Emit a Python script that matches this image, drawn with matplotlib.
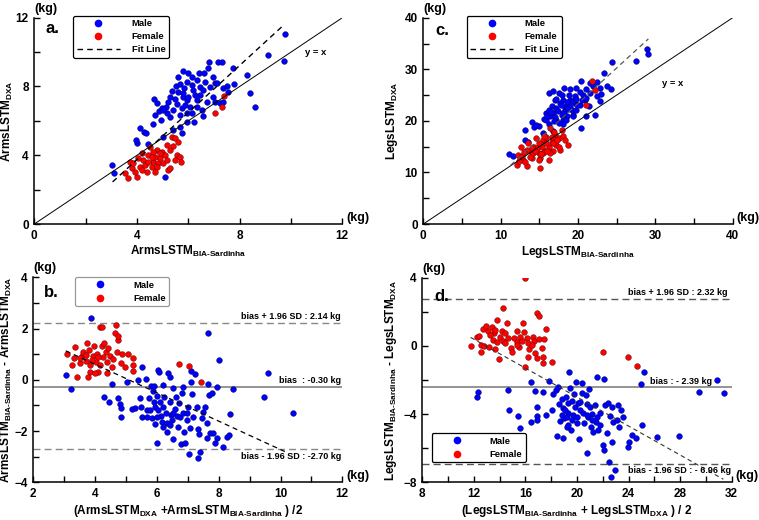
import matplotlib
matplotlib.use('Agg')
import matplotlib.pyplot as plt
from matplotlib.ticker import MultipleLocator, NullFormatter
from matplotlib.lines import Line2D

plt.rcParams['font.family'] = ['Liberation Sans', 'DejaVu Sans']
plt.rcParams['font.weight'] = 'bold'
plt.rcParams['mathtext.fontset'] = 'custom'
plt.rcParams['mathtext.rm'] = 'Liberation Sans:bold'
plt.rcParams['mathtext.it'] = 'Liberation Sans:bold'
plt.rcParams['mathtext.bf'] = 'Liberation Sans:bold'
plt.rcParams['mathtext.default'] = 'rm'

# ---------------- Panel a: Arms (BIA vs DXA) ----------------
arms_male_bia = [3.03,3.12,3.99,3.95,4.12,4.27,4.34,4.43,4.68,4.62,
                 4.71,4.87,4.95,5.00,5.08,4.97,5.12,5.27,5.35,5.52,
                 5.60,5.78,6.00,5.68,5.83,5.78,5.55,5.74,5.94,5.68,
                 5.42,5.29,5.16,5.68,5.74,5.42,6.13,6.19,6.32,6.45,
                 6.32,6.43,6.61,6.78,6.82,6.97,7.17,7.30,7.73,6.65,
                 6.84,7.04,6.52,6.56,6.23,5.94,6.71,6.97,7.10,7.34,
                 7.49,7.56,7.79,7.04,7.23,8.30,8.40,8.60,9.12,9.73,
                 9.78,7.34,5.94,6.06,6.13,6.32,6.45,5.87,5.48,5.22,
                 5.03,4.77,6.00,5.81,5.61,6.26,6.58,6.13,5.94]
arms_male_dxa = [3.43,2.97,4.69,4.88,5.58,5.37,5.27,4.65,7.27,5.79,
                 6.34,6.57,6.05,5.08,2.71,6.72,6.82,7.36,7.73,8.02,
                 8.53,8.90,8.80,8.14,7.89,7.40,7.00,6.72,6.43,6.34,
                 6.63,6.24,6.43,5.66,5.27,5.46,8.08,7.79,7.21,7.98,
                 8.37,8.80,8.80,9.05,9.44,8.57,9.44,9.44,9.05,8.28,
                 7.95,8.18,6.63,6.28,5.95,5.95,7.11,7.40,8.18,7.89,
                 8.02,7.69,8.12,7.11,7.05,8.66,7.64,6.78,9.83,9.46,
                 11.07,7.11,7.21,6.82,6.43,6.82,7.50,6.91,7.29,7.11,
                 6.63,7.02,7.40,7.60,7.69,7.50,7.79,8.57,8.28]
arms_female_bia = [3.66,3.53,3.73,3.79,3.99,3.92,4.12,4.25,4.38,4.44,
                   4.57,4.64,4.70,4.77,4.83,4.90,4.96,5.03,5.09,5.16,
                   5.22,5.29,5.35,5.48,5.42,5.55,5.61,5.48,5.68,5.71,
                   5.29,4.51,4.64,4.18,4.05,3.86,4.31,4.44,4.77,4.90,
                   4.57,4.18,4.70,5.16,7.04,7.30,7.39]
arms_female_dxa = [2.65,2.95,3.59,3.24,2.75,3.04,3.33,3.72,3.04,4.01,
                   3.33,3.62,3.91,4.30,3.53,3.82,4.20,3.53,4.01,4.59,
                   3.14,4.30,5.08,4.98,4.53,4.01,4.79,3.72,3.91,3.59,
                   3.24,4.50,4.20,4.11,3.82,3.53,3.43,3.62,3.33,4.11,
                   3.91,3.14,3.04,3.72,6.43,6.78,7.44]
fit_a_x = [3.05, 9.70]
fit_a_y = [2.45, 11.55]

# ---------------- Panel c: Legs (BIA vs DXA) ----------------
legs_male_bia = [11.1,11.6,13.1,13.2,14.1,14.3,14.9,15.6,15.9,16.2,
                 16.6,16.8,17.2,16.2,16.8,17.5,18.2,19.0,19.7,20.4,
                 21.6,22.5,22.8,23.4,23.7,24.3,24.4,27.5,28.9,29.1,
                 20.4,21.1,22.2,22.8,20.3,19.2,18.6,18.0,18.1,18.8,
                 19.6,20.7,21.1,21.6,22.0,19.8,19.0,17.7,17.0,16.4,
                 17.2,18.3,19.6,20.9,15.9,15.5,16.8,18.0,19.4,18.5,17.9,
                 16.0,16.5,17.0,17.4,17.8,18.2,18.6,19.0,19.4,19.8,
                 20.2,16.3,16.9,17.5,18.1,18.7,19.3,19.9,20.5,21.0,
                 17.2,17.9,18.4,21.4,22.4,23.0,14.6,13.6]
legs_male_dxa = [13.5,13.1,18.3,16.3,19.7,18.9,19.0,20.3,21.5,22.2,
                 22.9,21.5,22.5,25.5,25.7,25.4,26.4,26.2,26.4,27.8,
                 27.3,27.5,26.4,29.2,26.7,26.1,31.4,31.7,34.0,32.9,
                 18.7,21.0,21.1,23.8,23.1,22.2,20.9,20.2,24.1,25.1,
                 24.8,25.1,26.1,25.4,26.7,22.2,24.1,23.5,24.1,20.9,
                 20.2,22.5,23.5,24.1,20.2,17.6,18.0,19.3,21.2,22.9,21.2,
                 21.0,21.8,20.8,22.0,23.0,21.8,23.6,22.8,23.9,24.2,
                 25.6,19.4,20.0,19.6,21.5,22.3,21.0,23.0,24.0,24.5,
                 24.3,25.0,20.2,22.9,24.9,25.3,19.2,15.9]
legs_female_bia = [12.1,12.3,12.6,12.9,13.4,13.6,13.8,14.0,14.3,14.6,
                   14.9,15.1,15.3,15.5,15.7,15.9,16.2,16.4,15.0,16.6,
                   16.8,17.0,17.2,17.5,17.7,17.9,18.1,18.3,18.7,15.1,
                   16.2,14.2,13.4,12.7,14.7,15.5,21.1,21.8,22.2,14.0,
                   15.9,16.8,17.5,16.4,
                   13.0,13.8,14.5,15.2,16.0,16.6,17.3,12.4,13.2,14.9,15.6,16.9]
legs_female_dxa = [11.5,13.4,15.0,12.4,11.3,15.7,14.1,12.8,15.0,16.7,
                   13.8,12.8,15.0,16.3,14.1,16.9,15.0,18.6,12.5,16.0,
                   14.1,17.3,15.4,16.7,14.4,18.3,17.0,16.3,15.3,10.8,
                   12.4,13.8,14.4,13.1,14.7,13.8,23.0,27.8,25.9,14.7,
                   15.7,15.7,15.0,13.8,
                   13.9,12.9,14.1,13.5,14.2,16.8,16.2,12.2,12.0,15.8,17.1,17.9]
fit_c_x = [11.3, 29.1]
fit_c_y = [11.4, 35.9]

# ---------------- Panel b: Arms Bland-Altman ----------------
arms_ba_male_mean = [3.05,3.22,3.87,5.51,4.54,5.02,5.38,5.64,4.30,4.46,
                     4.75,4.80,4.83,4.84,5.20,5.29,5.45,5.48,5.51,5.69,
                     5.74,5.80,5.86,5.90,5.94,5.94,5.99,6.01,6.05,6.08,
                     6.10,6.13,6.19,6.21,6.24,6.28,6.32,6.37,6.42,6.42,
                     6.46,6.48,6.51,6.53,6.59,6.62,6.66,6.69,6.72,6.77,
                     6.80,6.83,6.85,6.89,6.91,6.96,7.02,7.05,7.07,7.09,
                     7.10,7.12,7.16,7.23,7.29,7.32,7.34,7.37,7.39,7.45,
                     7.50,7.57,7.61,7.63,7.66,7.66,7.69,7.72,7.77,7.83,
                     7.88,7.93,7.95,8.01,8.13,8.26,8.34,8.36,8.47,9.48,
                     9.58,10.41,
                     5.67,5.83,5.99,6.15,6.32,6.21,6.42,6.53,6.74,6.96,5.78,6.05,5.89]
arms_ba_male_diff = [0.19,-0.37,2.40,0.49,-0.16,-0.10,-0.01,0.03,-0.66,-0.85,
                     -0.72,-0.95,-1.11,-1.44,-1.15,-1.11,-0.72,-1.05,-1.46,-1.18,
                     -0.72,-0.24,-0.42,-0.24,-1.05,-1.73,-2.45,-0.63,0.38,0.29,
                     -0.85,-1.41,-1.05,-0.20,-0.66,-1.28,-2.02,0.28,0.12,-0.85,
                     -1.37,-1.57,-0.33,-2.32,-1.15,-0.66,-1.41,-1.83,-0.92,-2.50,
                     -0.53,-1.30,-0.29,-2.02,-2.45,-1.57,-1.05,-2.89,-1.89,-0.07,
                     0.36,-0.55,-1.46,0.23,-1.05,-1.93,-3.06,-2.11,-2.80,-1.50,
                     -1.24,-1.05,-1.67,-2.28,1.82,-0.16,-0.59,-2.09,-0.50,-2.09,
                     -2.48,-0.29,-2.28,0.78,-2.64,-2.22,-2.15,-1.34,-0.37,-0.69,
                     0.28,-1.31,
                     -1.44,-1.50,-1.44,-1.63,-1.70,-1.83,-1.76,-1.31,-1.44,-1.31,-1.18,-1.18,-0.85]
arms_ba_female_mean = [3.10,3.24,3.35,3.32,3.51,3.56,3.62,3.70,3.75,3.80,
                       3.83,3.85,3.92,3.97,4.03,4.05,4.10,4.16,4.21,4.21,
                       4.27,4.29,4.35,4.37,4.43,4.48,4.54,4.59,4.64,4.67,
                       4.70,4.73,4.75,4.83,4.86,4.97,5.07,5.24,5.24,5.24,
                       3.40,3.78,3.99,4.37,3.51,3.89,4.16,4.10,3.72,
                       6.71,7.05,7.43]
arms_ba_female_diff = [1.00,0.58,1.27,0.84,0.64,0.93,1.10,0.73,1.45,1.16,
                       0.58,0.32,0.93,1.30,0.71,1.01,0.32,2.08,2.08,1.30,
                       0.88,1.45,1.10,0.71,1.23,0.93,0.51,0.80,1.82,2.14,
                       1.10,1.56,1.71,0.67,1.01,0.51,1.01,0.87,0.58,0.36,
                       0.12,0.12,0.25,0.25,0.84,0.77,0.58,0.90,0.97,
                       0.62,0.54,-0.07]
fit_b_x = [3.05, 10.14]
fit_b_y = [1.13, -2.80]
arms_bias_lines = [2.20, -0.27, -2.71]
arms_bias_labels = ["bias + 1.96 SD : 2.14 kg", "bias  : -0.30 kg", "bias - 1.96 SD : -2.70 kg"]

# ---------------- Panel d: Legs Bland-Altman ----------------
legs_ba_male_mean = [12.29,12.27,14.62,14.75,15.40,15.58,16.40,16.40,16.77,16.87,
                     16.92,16.90,17.34,17.57,17.85,18.03,18.16,18.37,18.47,18.55,
                     18.60,18.68,18.81,18.89,18.94,19.02,19.15,19.20,19.28,19.33,
                     19.41,19.46,19.51,19.59,19.66,19.77,19.84,19.89,19.97,20.05,
                     20.13,20.23,20.36,20.41,20.49,20.56,20.67,20.75,20.80,20.88,
                     20.96,21.01,21.09,21.19,21.27,21.40,21.48,21.58,21.65,21.78,
                     21.99,22.07,22.12,22.17,22.30,22.43,22.51,22.56,22.61,22.69,
                     22.74,22.82,22.95,23.13,23.21,23.29,23.39,23.54,23.98,24.06,
                     24.29,24.58,24.94,25.02,25.20,26.23,27.89,29.49,30.89,31.40,
                     19.20,19.59,19.97,20.23,18.81,19.07,19.33,20.75,21.14,21.53,21.78]
legs_ba_male_diff = [-2.68,-3.02,-2.59,-3.76,-4.09,-4.79,-2.10,-4.44,-2.66,-4.09,
                     -3.56,-4.35,-2.68,-4.05,-2.08,-3.76,-2.82,-2.59,-5.28,-2.43,
                     -3.43,-4.38,-3.14,-5.41,-3.66,-4.24,-2.98,-4.74,-3.37,-3.91,
                     -1.51,-2.49,-4.93,-3.21,-4.05,-2.82,-3.60,-2.14,-4.55,-3.33,
                     -5.48,-3.76,-2.78,-2.20,-3.91,-4.55,-2.88,-3.41,-6.26,-4.15,
                     -2.55,-3.56,-4.74,-3.99,-5.03,-3.47,-4.44,-1.84,-4.93,-4.64,
                     -5.81,-1.96,-6.10,-3.47,-5.13,-3.37,-6.79,-4.11,-7.67,-5.62,
                     -3.56,-4.44,-7.28,-4.34,-3.47,-4.74,-3.76,-4.15,-5.91,-5.62,
                     -5.22,-5.41,-2.24,-4.64,-1.55,-5.32,-5.28,-2.68,-2.00,-2.74,
                     -4.15,-4.35,-4.15,-3.27,-4.05,-3.76,-4.64,-4.05,-4.34,-4.15,-3.91]
legs_ba_female_mean = [11.75,12.22,12.40,12.55,12.55,12.68,12.81,12.94,13.12,13.20,
                       13.38,13.51,13.59,13.64,13.77,13.82,13.92,14.03,14.15,14.23,
                       14.28,14.41,14.54,14.67,14.85,14.98,15.14,15.32,15.37,15.53,
                       15.58,15.71,15.84,15.89,15.97,15.99,16.09,16.17,16.22,16.30,
                       16.61,16.69,16.77,16.87,16.92,17.03,17.08,17.26,17.34,17.39,
                       17.44,17.59,18.03,22.04,23.98,24.68,13.25,13.64,14.41,15.32,16.48]
legs_ba_female_diff = [-0.03,0.50,0.58,-0.34,0.05,0.97,0.01,1.17,0.87,-0.05,
                       1.09,0.35,0.74,-0.16,0.21,1.52,-0.75,0.54,0.89,0.31,
                       2.24,0.74,1.36,0.44,-0.10,-0.34,0.44,0.89,0.25,-0.08,
                       0.50,0.31,1.32,0.83,3.96,-1.26,0.44,-0.67,0.15,-0.20,
                       0.50,0.31,-0.44,-0.73,1.95,1.77,0.38,-0.14,-0.63,-0.98,
                       0.38,0.97,-0.92,-0.36,-0.67,-1.16,0.64,0.93,0.19,0.05,0.05]
fit_d_x = [11.75, 31.35]
fit_d_y = [0.50, -7.82]
legs_bias_lines = [2.74, -2.39, -6.92]
legs_bias_labels = ["bias + 1.96 SD : 2.32 kg", "bias : - 2.39 kg", "bias - 1.96 SD : - 6.96 kg"]

MALE_C = '#0000ff'
FEMALE_C = '#ff0000'

fig = plt.figure(figsize=(7.59, 5.20), dpi=100)
ax_a = fig.add_axes([0.0452, 0.5692, 0.4058, 0.3967])
ax_c = fig.add_axes([0.5577, 0.5692, 0.4076, 0.3967])
ax_b = fig.add_axes([0.0439, 0.0725, 0.4071, 0.3942])
ax_d = fig.add_axes([0.5564, 0.0725, 0.4076, 0.3934])


def style(ax, xlim, ylim, xmaj, xmin, ymaj, ymin):
    ax.set_xlim(xlim)
    ax.set_ylim(ylim)
    for s in ('top', 'right'):
        ax.spines[s].set_visible(False)
    for s in ('left', 'bottom'):
        ax.spines[s].set_linewidth(1.1)
    ax.xaxis.set_major_locator(MultipleLocator(xmaj))
    ax.xaxis.set_minor_locator(MultipleLocator(xmin))
    ax.yaxis.set_major_locator(MultipleLocator(ymaj))
    ax.yaxis.set_minor_locator(MultipleLocator(ymin))
    ax.tick_params(which='both', direction='in', length=4, width=1.0,
                   labelsize=8.5, pad=4)
    ax.text(0.0, 1.015, '(kg)', transform=ax.transAxes, ha='left', va='bottom',
            fontsize=9, fontweight='bold')
    ax.text(1.012, 0.0, '(kg)', transform=ax.transAxes, ha='left', va='bottom',
            fontsize=9, fontweight='bold')


def scatter(ax, mx, my, fx, fy):
    ax.scatter(mx, my, s=17, c=MALE_C, edgecolors='#00004a', linewidths=0.3, zorder=3)
    ax.scatter(fx, fy, s=17, c=FEMALE_C, edgecolors='#4a0000', linewidths=0.3, zorder=3)


def legend(ax, with_fit, anchor, loc, edge):
    handles = [Line2D([], [], ls='none', marker='o', ms=4.5, mfc=MALE_C, mec=MALE_C, label='Male'),
               Line2D([], [], ls='none', marker='o', ms=4.5, mfc=FEMALE_C, mec=FEMALE_C, label='Female')]
    if with_fit:
        handles.append(Line2D([], [], ls=(0, (4, 3)), color='black', lw=1.0, label='Fit Line'))
    lg = ax.legend(handles=handles, loc=loc, bbox_to_anchor=anchor, fontsize=6.8,
                   handlelength=4.6, handletextpad=1.2, borderpad=0.35, labelspacing=0.45,
                   frameon=True, fancybox=True, framealpha=1, edgecolor=edge,
                   borderaxespad=0)
    lg.get_frame().set_linewidth(0.9)
    for t in lg.get_texts():
        t.set_fontweight('bold')


# ---- a ----
style(ax_a, (0, 12), (0, 12), 4, 2, 4, 2)
scatter(ax_a, arms_male_bia, arms_male_dxa, arms_female_bia, arms_female_dxa)
ax_a.plot([0, 12], [0, 12], color='black', lw=0.7, zorder=4)
ax_a.plot(fit_a_x, fit_a_y, color='black', lw=1.0, ls=(0, (4, 3)), zorder=4)
ax_a.text(10.55, 10.0, 'y = x', fontsize=6.8, fontweight='bold', va='center')
ax_a.text(0.035, 0.95, 'a.', transform=ax_a.transAxes, fontsize=12, fontweight='bold', va='center')
ax_a.set_xlabel(r'ArmsLSTM$_{\text{BIA-Sardinha}}$', fontsize=8.5, fontweight='bold', labelpad=2)
ax_a.set_ylabel(r'ArmsLSTM$_{\text{DXA}}$', fontsize=8.5, fontweight='bold')
ax_a.yaxis.set_label_coords(-0.062, 0.5)
legend(ax_a, True, (0.127, 1.01), 'upper left', 'black')

# ---- c ----
style(ax_c, (0, 40), (0, 40), 10, 5, 10, 5)
scatter(ax_c, legs_male_bia, legs_male_dxa, legs_female_bia, legs_female_dxa)
ax_c.plot([0, 40], [0, 40], color='black', lw=0.7, zorder=4)
ax_c.plot(fit_c_x, fit_c_y, color='#555555', lw=0.9, ls=(0, (4, 3)), zorder=4)
ax_c.text(30.8, 27.2, 'y = x', fontsize=6.8, fontweight='bold', va='center')
ax_c.text(0.04, 0.94, 'c.', transform=ax_c.transAxes, fontsize=12, fontweight='bold', va='center')
ax_c.set_xlabel(r'LegsLSTM$_{\text{BIA-Sardinha}}$', fontsize=8.5, fontweight='bold', labelpad=2)
ax_c.set_ylabel(r'LegsLSTM$_{\text{DXA}}$', fontsize=8.5, fontweight='bold')
ax_c.yaxis.set_label_coords(-0.075, 0.5)
legend(ax_c, True, (0.14, 1.01), 'upper left', 'black')

# ---- b ----
style(ax_b, (2, 12), (-4, 4), 2, 1, 2, 1)
scatter(ax_b, arms_ba_male_mean, arms_ba_male_diff, arms_ba_female_mean, arms_ba_female_diff)
ax_b.axhline(arms_bias_lines[0], color='#888888', lw=1.0, ls=(0, (5, 3)), zorder=2)
ax_b.axhline(arms_bias_lines[1], color='#777777', lw=1.1, zorder=2)
ax_b.axhline(arms_bias_lines[2], color='#888888', lw=1.0, ls=(0, (5, 3)), zorder=2)
ax_b.plot(fit_b_x, fit_b_y, color='black', lw=0.9, ls=(0, (4, 3)), zorder=4)
ax_b.text(11.95, arms_bias_lines[0] + 0.1, arms_bias_labels[0], ha='right', va='bottom', fontsize=6.5, fontweight='bold', zorder=5)
ax_b.text(11.95, arms_bias_lines[1] + 0.06, arms_bias_labels[1], ha='right', va='bottom', fontsize=6.5, fontweight='bold', zorder=5)
ax_b.text(11.95, arms_bias_lines[2] - 0.1, arms_bias_labels[2], ha='right', va='top', fontsize=6.5, fontweight='bold', zorder=5)
ax_b.text(0.035, 0.925, 'b.', transform=ax_b.transAxes, fontsize=12, fontweight='bold', va='center')
ax_b.set_xlabel(r'(ArmsLSTM$_{\text{DXA}}$ +ArmsLSTM$_{\text{BIA-Sardinha}}$ ) /2', fontsize=8.5, fontweight='bold', labelpad=2)
ax_b.set_ylabel(r'ArmsLSTM$_{\text{BIA-Sardinha}}$ - ArmsLSTM$_{\text{DXA}}$', fontsize=8.5, fontweight='bold')
ax_b.yaxis.set_label_coords(-0.062, 0.5)
legend(ax_b, False, (0.135, 1.0), 'upper left', '#999999')

# ---- d ----
style(ax_d, (8, 32), (-8, 4), 4, 2, 4, 2)
scatter(ax_d, legs_ba_male_mean, legs_ba_male_diff, legs_ba_female_mean, legs_ba_female_diff)
ax_d.axhline(legs_bias_lines[0], color='#555555', lw=1.0, ls=(0, (5, 3)), zorder=2)
ax_d.axhline(legs_bias_lines[1], color='#777777', lw=1.1, zorder=2)
ax_d.axhline(legs_bias_lines[2], color='#555555', lw=1.0, ls=(0, (5, 3)), zorder=2)
ax_d.plot(fit_d_x, fit_d_y, color='#333333', lw=0.8, ls=(0, (4, 3)), zorder=4)
ax_d.text(31.7, legs_bias_lines[0] + 0.12, legs_bias_labels[0], ha='right', va='bottom', fontsize=6.5, fontweight='bold', zorder=5)
ax_d.text(30.5, legs_bias_lines[1] + 0.06, legs_bias_labels[1], ha='right', va='bottom', fontsize=6.5, fontweight='bold', zorder=5)
ax_d.text(31.95, legs_bias_lines[2] - 0.1, legs_bias_labels[2], ha='right', va='top', fontsize=6.5, fontweight='bold', zorder=5)
ax_d.text(0.04, 0.91, 'd.', transform=ax_d.transAxes, fontsize=12, fontweight='bold', va='center')
ax_d.set_xlabel(r'(LegsLSTM$_{\text{BIA-Sardinha}}$ + LegsLSTM$_{\text{DXA}}$ ) / 2', fontsize=8.5, fontweight='bold', labelpad=2)
ax_d.set_ylabel(r'LegsLSTM$_{\text{BIA-Sardinha}}$ - LegsLSTM$_{\text{DXA}}$', fontsize=8.5, fontweight='bold')
ax_d.yaxis.set_label_coords(-0.075, 0.5)
legend(ax_d, False, (0.03, 0.098), 'lower left', 'black')

fig.savefig('out.png', dpi=100)
